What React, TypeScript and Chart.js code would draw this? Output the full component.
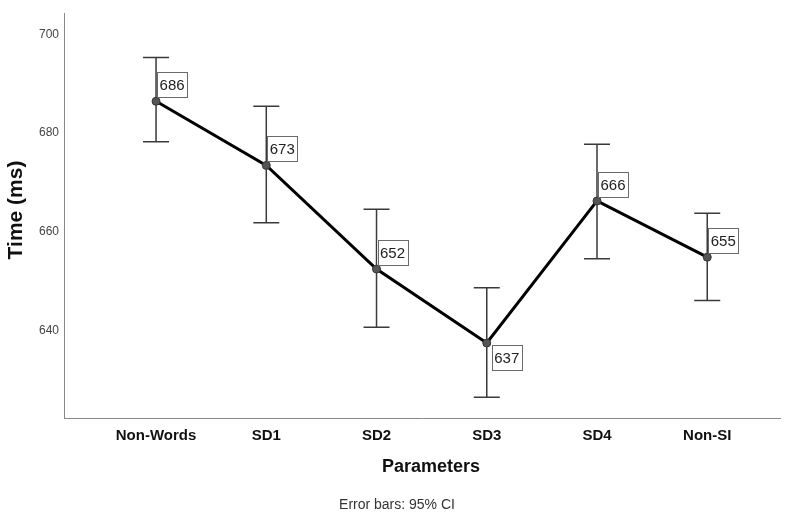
import React, { useEffect, useRef } from 'react';
import { Chart, registerables } from 'chart.js';

Chart.register(...registerables);

const categories = ['Non-Words', 'SD1', 'SD2', 'SD3', 'SD4', 'Non-SI'];
const means = [686.4, 673.4, 652.4, 637.4, 666.2, 654.8];
const ciLower = [678.2, 661.8, 640.6, 626.4, 654.5, 646.0];
const ciUpper = [695.3, 685.4, 664.5, 648.6, 677.7, 663.7];
const valueLabels = ['686', '673', '652', '637', '666', '655'];
const labelBelow = [false, false, false, true, false, false];
const yTicks = [640, 660, 680, 700];

const FONT = '"Liberation Sans", Arial, Helvetica, sans-serif';

export default function App() {
  const ref = useRef<HTMLCanvasElement>(null);

  useEffect(() => {
    const canvas = ref.current;
    if (!canvas) return;

    const errorBars = {
      id: 'errorBars',
      beforeDatasetsDraw(chart: any) {
        const { ctx, scales } = chart;
        const xs = scales.x;
        const ys = scales.y;
        ctx.save();
        ctx.strokeStyle = '#3a3a3a';
        ctx.lineWidth = 1.5;
        categories.forEach((_, i) => {
          const x = xs.getPixelForValue(i);
          const yTop = ys.getPixelForValue(ciUpper[i]);
          const yBot = ys.getPixelForValue(ciLower[i]);
          ctx.beginPath();
          ctx.moveTo(x, yTop);
          ctx.lineTo(x, yBot);
          ctx.moveTo(x - 13, yTop);
          ctx.lineTo(x + 13, yTop);
          ctx.moveTo(x - 13, yBot);
          ctx.lineTo(x + 13, yBot);
          ctx.stroke();
        });
        ctx.restore();
      },
      afterDatasetsDraw(chart: any) {
        const { ctx, scales } = chart;
        const xs = scales.x;
        const ys = scales.y;
        ctx.save();
        ctx.font = `15px ${FONT}`;
        ctx.textAlign = 'center';
        ctx.textBaseline = 'middle';
        const w = 30;
        const h = 25;
        categories.forEach((_, i) => {
          const px = xs.getPixelForValue(i);
          const py = ys.getPixelForValue(means[i]);
          let bx: number, by: number;
          if (labelBelow[i]) {
            bx = px + 5;
            by = py + 2;
          } else {
            bx = px + 1;
            by = py - 4 - h;
          }
          ctx.fillStyle = '#ffffff';
          ctx.fillRect(bx, by, w, h);
          ctx.strokeStyle = '#6a6a6a';
          ctx.lineWidth = 1;
          ctx.strokeRect(Math.round(bx) + 0.5, Math.round(by) + 0.5, w, h);
          ctx.fillStyle = '#222222';
          ctx.fillText(valueLabels[i], bx + w / 2, by + h / 2 + 1);
        });
        ctx.restore();
      },
      afterDraw(chart: any) {
        const { ctx } = chart;
        ctx.save();
        ctx.textAlign = 'center';
        ctx.textBaseline = 'middle';
        // x axis title
        ctx.font = `bold 18px ${FONT}`;
        ctx.fillStyle = '#111111';
        ctx.fillText('Parameters', 431, 467);
        // footnote
        ctx.font = `14px ${FONT}`;
        ctx.fillStyle = '#333333';
        ctx.fillText('Error bars: 95% CI', 397, 505);
        // y axis title
        ctx.translate(16, 210);
        ctx.rotate(-Math.PI / 2);
        ctx.font = `bold 21px ${FONT}`;
        ctx.fillStyle = '#111111';
        ctx.fillText('Time (ms)', 0, 0);
        ctx.restore();
      },
    };

    const chart = new Chart(canvas, {
      type: 'scatter',
      data: {
        datasets: [
          {
            data: means.map((m, i) => ({ x: i, y: m })),
            showLine: true,
            borderColor: '#000000',
            borderWidth: 3,
            pointRadius: 4,
            pointBackgroundColor: '#555555',
            pointBorderColor: '#333333',
            pointBorderWidth: 1,
            tension: 0,
          },
        ],
      },
      options: {
        responsive: false,
        animation: false,
        devicePixelRatio: 1,
        layout: { padding: { left: 0, top: 13, right: 13, bottom: 30 } },
        plugins: {
          legend: { display: false },
          tooltip: { enabled: false },
          title: { display: false },
        },
        scales: {
          x: {
            type: 'linear',
            min: -0.835,
            max: 5.66,
            grid: { display: false, drawTicks: false },
            border: { display: true, color: '#888888', width: 1 },
            afterBuildTicks: (scale: any) => {
              scale.ticks = categories.map((_, i) => ({ value: i }));
            },
            afterFit: (scale: any) => {
              scale.height = 67;
            },
            ticks: {
              autoSkip: false,
              maxRotation: 0,
              padding: 9,
              color: '#111111',
              font: { family: FONT, size: 15, weight: 'bold' },
              callback: (v: any) => categories[v as number] ?? '',
            },
            title: { display: false },
          },
          y: {
            type: 'linear',
            min: 622.2,
            max: 704.3,
            grid: { display: false, drawTicks: false },
            border: { display: true, color: '#888888', width: 1 },
            afterBuildTicks: (scale: any) => {
              scale.ticks = yTicks.map((v) => ({ value: v }));
            },
            afterFit: (scale: any) => {
              scale.width = 64;
            },
            ticks: {
              padding: 5,
              color: '#444444',
              font: { family: FONT, size: 12 },
            },
            title: { display: false },
          },
        },
      } as any,
      plugins: [errorBars],
    });

    return () => {
      chart.destroy();
    };
  }, []);

  return (
    <div style={{ position: 'absolute', left: 0, top: 0, width: 793, height: 515, background: '#ffffff' }}>
      <canvas ref={ref} width={793} height={515} style={{ display: 'block' }} />
    </div>
  );
}
